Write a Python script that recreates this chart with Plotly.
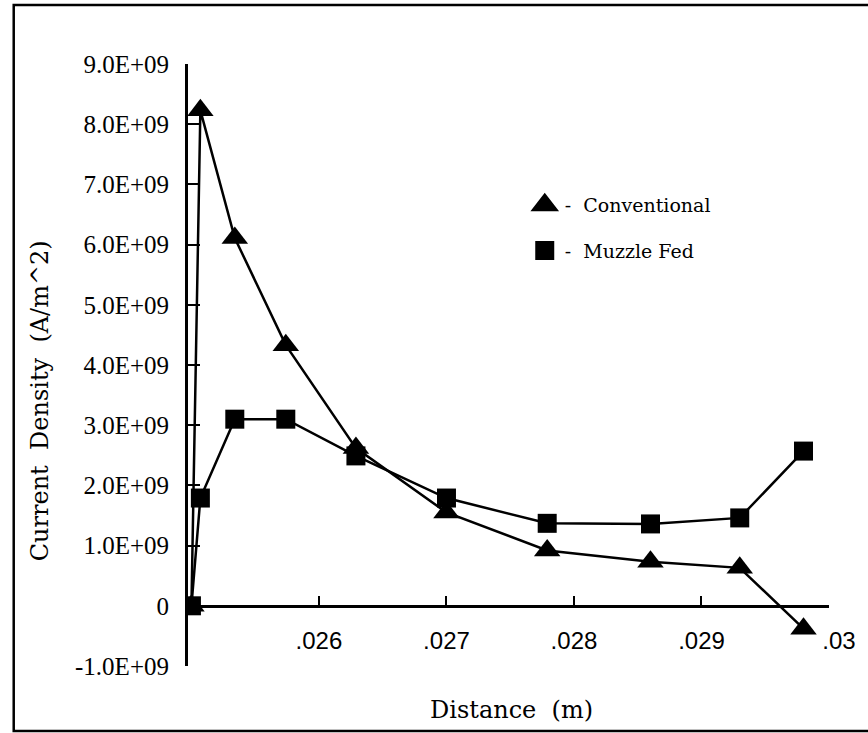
import plotly.graph_objects as go

# Distance along the rail (m) and current density (A/m^2)
distance = [0.02500, 0.02507, 0.02534, 0.02574, 0.02629, 0.02700, 0.02779, 0.02860, 0.02930, 0.02980]
conventional = [0.0, 8.23e9, 6.11e9, 4.33e9, 2.62e9, 1.55e9, 0.92e9, 0.73e9, 0.63e9, -0.38e9]
muzzle_fed = [0.0, 1.79e9, 3.10e9, 3.10e9, 2.49e9, 1.79e9, 1.37e9, 1.36e9, 1.46e9, 2.57e9]

x_tickvals = [0.026, 0.027, 0.028, 0.029, 0.030]
x_ticktext = [".026", ".027", ".028", ".029", "\u00a0\u00a0\u00a0.03"]
y_tickvals = [-1e9, 0, 1e9, 2e9, 3e9, 4e9, 5e9, 6e9, 7e9, 8e9, 9e9]
y_ticktext = ["-1.0E+09", "0", "1.0E+09", "2.0E+09", "3.0E+09", "4.0E+09",
              "5.0E+09", "6.0E+09", "7.0E+09", "8.0E+09", "9.0E+09"]

W, H = 868, 733
ML, MR, MT, MB = 188, 29, 64, 67
X_RANGE = [0.024973, 0.030]
Y_RANGE = [-1e9, 9e9]

fig = go.Figure()

fig.add_trace(go.Scatter(
    x=distance, y=conventional, mode="lines+markers", showlegend=False,
    line=dict(color="black", width=2.5),
    marker=dict(symbol="triangle-up", size=23, color="black"),
))
fig.add_trace(go.Scatter(
    x=distance, y=muzzle_fed, mode="lines+markers", showlegend=False,
    line=dict(color="black", width=2.5),
    marker=dict(symbol="square", size=19, color="black"),
))

# legend keys: marker only, followed by a dash and the series name
fig.add_trace(go.Scatter(
    x=[None], y=[None], mode="markers", name="-  Conventional", legendgroup="a",
    marker=dict(symbol="triangle-up", size=16, color="black",
                line=dict(color="black", width=5)),
))
fig.add_trace(go.Scatter(
    x=[None], y=[None], mode="markers", name="-  Muzzle Fed", legendgroup="b",
    marker=dict(symbol="square", size=16, color="black",
                line=dict(color="black", width=3)),
))

pw, ph = W - ML - MR, H - MT - MB


def px_x(px):
    return (px - ML) / pw


def px_y(py):
    return (H - MB - py) / ph


zero_pos = (0 - Y_RANGE[0]) / (Y_RANGE[1] - Y_RANGE[0])

fig.update_layout(
    width=W, height=H,
    margin=dict(l=ML, r=MR, t=MT, b=MB),
    paper_bgcolor="white", plot_bgcolor="white",
    xaxis=dict(
        range=X_RANGE, anchor="free", position=zero_pos,
        showgrid=False, zeroline=False,
        showline=True, linecolor="black", linewidth=3,
        ticks="inside", ticklen=9, tickwidth=2, tickcolor="black",
        tickvals=x_tickvals, ticktext=x_ticktext,
        tickfont=dict(family="Liberation Sans", size=24, color="black"),
        ticklabelstandoff=12,
    ),
    yaxis=dict(
        range=Y_RANGE,
        showgrid=False, zeroline=False,
        showline=True, linecolor="black", linewidth=3,
        ticks="inside", ticklen=12, tickwidth=2, tickcolor="black",
        tickvals=y_tickvals, ticktext=y_ticktext,
        tickfont=dict(family="Liberation Serif", size=25, color="black"),
        ticklabelstandoff=11,
    ),
    legend=dict(
        x=px_x(530), y=px_y(186), xanchor="left", yanchor="top",
        bgcolor="rgba(0,0,0,0)", borderwidth=0,
        traceorder="grouped", tracegroupgap=18,
        font=dict(family="DejaVu Serif", size=19, color="black"),
        itemsizing="trace",
    ),
    annotations=[
        dict(text="Distance  (m)", xref="paper", yref="paper",
             x=px_x(517), y=px_y(710), xanchor="center", yanchor="middle",
             showarrow=False,
             font=dict(family="DejaVu Serif", size=24, color="black")),
        dict(text="Current  Density  (A/m^2)", xref="paper", yref="paper",
             x=px_x(38), y=px_y(401), xanchor="center", yanchor="middle",
             textangle=-90, showarrow=False,
             font=dict(family="DejaVu Serif", size=24, color="black")),
    ],
    shapes=[
        dict(type="rect", xref="paper", yref="paper",
             x0=px_x(11), x1=px_x(880), y0=px_y(731), y1=px_y(5),
             line=dict(color="black", width=2.5), fillcolor="rgba(0,0,0,0)",
             layer="below"),
    ],
)

fig.write_html("out.html")
